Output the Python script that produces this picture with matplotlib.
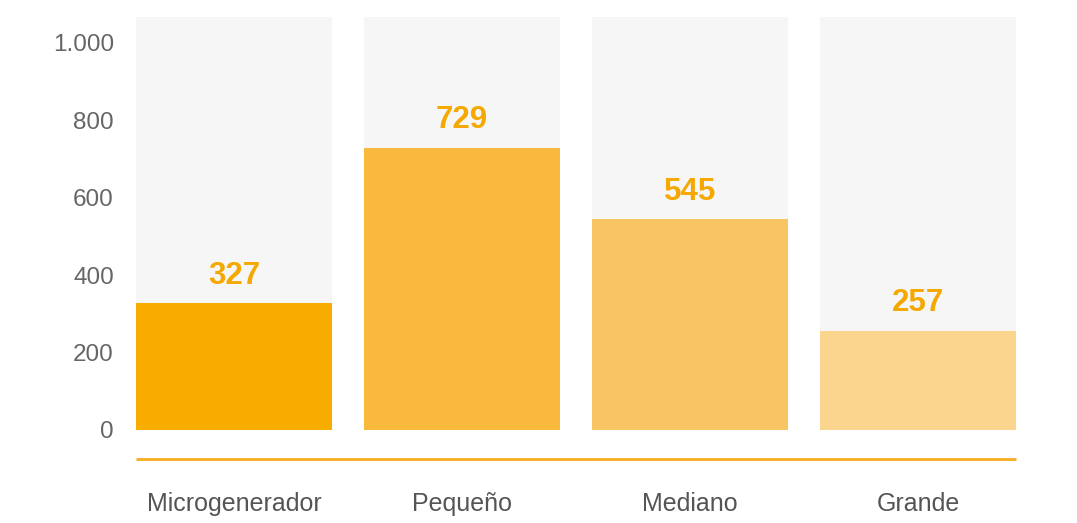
import matplotlib
matplotlib.use("Agg")
import matplotlib.pyplot as plt

categories = ["Microgenerador", "Pequeño", "Mediano", "Grande"]
values = [327, 729, 545, 257]
bar_colors = ["#f8ac00", "#f8b93d", "#f9c463", "#fbd48d"]
yticks = [0, 200, 400, 600, 800, 1000]
ytick_labels = ["0", "200", "400", "600", "800", "1.000"]

plt.rcParams["font.family"] = ["Liberation Sans", "DejaVu Sans"]

fig = plt.figure(figsize=(10.77, 5.23), dpi=100)
W, H = 1077, 523
left, right, top, bottom = 136, 1016, 17, 459
ax = fig.add_axes([left / W, 1 - bottom / H, (right - left) / W, (bottom - top) / H])

px_per_unit = 0.387
y_bottom = -(bottom - 430) / px_per_unit
y_top = (430 - top) / px_per_unit
ax.set_ylim(y_bottom, y_top)
width = 196 / 228
ax.set_xlim(-width / 2, len(categories) - 1 + width / 2)

x = range(len(categories))
# grey track behind each bar
ax.bar(x, [y_top] * len(categories), width=width, color="#f6f6f6", zorder=1)
ax.bar(x, values, width=width, color=bar_colors, zorder=2)

for xi, v in zip(x, values):
    ax.annotate(f"{v}", (xi, v), xytext=(0, 9), textcoords="offset points",
                ha="center", va="bottom", fontsize=22.5, fontweight="bold",
                color="#f5a800", zorder=3)

for s in ["top", "right", "left"]:
    ax.spines[s].set_visible(False)
ax.spines["bottom"].set_color("#f7ad1f")
ax.spines["bottom"].set_linewidth(2)
ax.spines["bottom"].set_capstyle("butt")

ax.set_yticks(yticks)
ax.set_yticklabels(ytick_labels)
ax.set_xticks(list(x))
ax.set_xticklabels(categories)
ax.tick_params(axis="y", length=0, pad=16, labelsize=17.5, labelcolor="#666666")
ax.tick_params(axis="x", length=0, pad=24, labelsize=18, labelcolor="#555555")

fig.savefig("out.png", dpi=100)
